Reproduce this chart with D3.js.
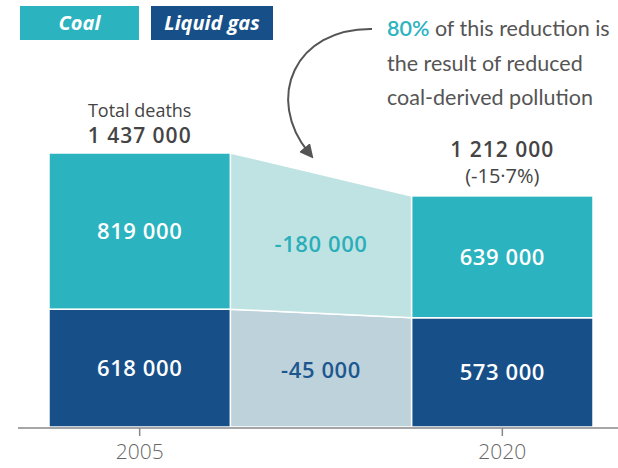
<!DOCTYPE html>
<html>
<head>
<meta charset="utf-8">
<script src="https://cdn.jsdelivr.net/npm/d3@7"></script>
<style>
  body { margin: 0; background: #fff; }
  svg { font-family: "Open Sans", Lato, sans-serif; }
</style>
</head>
<body>
<div id="chart"></div>
<script>
let width = 618
let height = 468

// data
const years = ["2005", "2020"]
const fuels = ["Liquid gas", "Coal"]
const coalDeaths = [819000, 639000]
const liquidGasDeaths = [618000, 573000]
const totalDeaths = [1437000, 1212000]
const coalChange = -180000
const liquidGasChange = -45000
const totalChangePct = -15.7

const colors = { "Coal": "#2bb3bf", "Liquid gas": "#175089" }
const fadedColors = { "Coal": "#bfe3e3", "Liquid gas": "#bdd2db" }
const changeText = { "Coal": "#2aaeba", "Liquid gas": "#1d5790" }

let locale = d3.formatLocale({ decimal: "·", thousands: " ", grouping: [3], currency: ["", ""], minus: "-" })
let fmt = locale.format(",")
let pct = locale.format(".1f")

let rows = years.map((y, i) => ({ year: y, "Coal": coalDeaths[i], "Liquid gas": liquidGasDeaths[i] }))
let stacked = d3.stack().keys(fuels)(rows)

let x = d3.scaleBand()
  .domain([years[0], "change", years[1]])
  .range([49, 593])

let y = d3.scaleLinear()
  .domain([0, totalDeaths[0]])
  .range([427, 153])

let svg = d3.select("#chart")
  .append("svg")
  .attr("width", width)
  .attr("height", height)

// middle "change" bands
let x0 = x(years[0]) + x.bandwidth()
let x1 = x(years[1])
svg.append("g").selectAll("path")
  .data(stacked)
  .join("path")
  .attr("d", s => {
    let a = s[0], b = s[1]
    return `M${x0},${y(a[0])} L${x0},${y(a[1])} L${x1},${y(b[1])} L${x1},${y(b[0])} Z`
  })
  .attr("fill", s => fadedColors[s.key])
  .attr("stroke", "#fff")
  .attr("stroke-width", 1.5)

// bars
svg.append("g").selectAll("g")
  .data(stacked)
  .join("g")
  .attr("fill", s => colors[s.key])
  .selectAll("rect")
  .data(s => s)
  .join("rect")
  .attr("x", d => x(d.data.year))
  .attr("y", d => y(d[1]))
  .attr("width", x.bandwidth())
  .attr("height", d => y(d[0]) - y(d[1]))
  .attr("stroke", "#fff")
  .attr("stroke-width", 1.5)

// value labels in bars
svg.append("g").selectAll("g")
  .data(stacked)
  .join("g")
  .selectAll("text")
  .data(s => s)
  .join("text")
  .attr("x", d => x(d.data.year) + x.bandwidth() / 2)
  .attr("y", d => (y(d[0]) + y(d[1])) / 2)
  .attr("dy", "0.35em")
  .attr("text-anchor", "middle")
  .attr("fill", "#fff")
  .attr("font-size", 22)
  .attr("font-weight", 600)
  .attr("letter-spacing", 0.6)
  .text(d => fmt(d[1] - d[0]))

// change labels
let changes = { "Coal": coalChange, "Liquid gas": liquidGasChange }
svg.append("g").selectAll("text")
  .data(stacked)
  .join("text")
  .attr("x", x("change") + x.bandwidth() / 2)
  .attr("y", s => (y(s[0][0]) + y(s[0][1]) + y(s[1][0]) + y(s[1][1])) / 4)
  .attr("dy", "0.35em")
  .attr("text-anchor", "middle")
  .attr("fill", s => changeText[s.key])
  .attr("font-size", 22)
  .attr("font-weight", 600)
  .attr("letter-spacing", 0.6)
  .text(s => fmt(changes[s.key]))

// axis
let axis = svg.append("g")
  .attr("transform", `translate(0,${y(0) + 1})`)
  .call(d3.axisBottom(x).tickValues(years).tickSize(8).tickPadding(8))
axis.attr("font-family", null)
axis.select(".domain").remove()
axis.selectAll("line").attr("stroke", "#888").attr("stroke-width", 1.5)
axis.selectAll("text")
  .attr("font-size", 21)
  .attr("font-weight", 300)
  .attr("fill", "#666")
svg.append("line")
  .attr("x1", 18).attr("x2", width)
  .attr("y1", y(0) + 1).attr("y2", y(0) + 1)
  .attr("stroke", "#888")
  .attr("stroke-width", 1.5)

// totals
let cx0 = x(years[0]) + x.bandwidth() / 2
let cx1 = x(years[1]) + x.bandwidth() / 2
svg.append("text")
  .attr("x", cx0).attr("y", 117)
  .attr("text-anchor", "middle")
  .attr("font-size", 18).attr("fill", "#444")
  .text("Total deaths")
svg.append("text")
  .attr("x", cx0).attr("y", 143)
  .attr("text-anchor", "middle")
  .attr("font-size", 21).attr("font-weight", 600).attr("fill", "#444")
  .attr("letter-spacing", 1)
  .text(fmt(totalDeaths[0]))
svg.append("text")
  .attr("x", cx1).attr("y", 157)
  .attr("text-anchor", "middle")
  .attr("font-size", 21).attr("font-weight", 600).attr("fill", "#444")
  .attr("letter-spacing", 1)
  .text(fmt(totalDeaths[1]))
svg.append("text")
  .attr("x", cx1).attr("y", 183)
  .attr("text-anchor", "middle")
  .attr("font-size", 20).attr("fill", "#444")
  .text(`(${pct(totalChangePct)}%)`)

// legend
let legend = svg.append("g").selectAll("g")
  .data(["Coal", "Liquid gas"])
  .join("g")
  .attr("transform", (d, i) => `translate(${[20, 151][i]},6)`)
legend.append("rect")
  .attr("width", (d, i) => [119, 122][i])
  .attr("height", 34)
  .attr("fill", d => colors[d])
legend.append("text")
  .attr("x", (d, i) => [119, 122][i] / 2)
  .attr("y", 17)
  .attr("dy", "0.35em")
  .attr("text-anchor", "middle")
  .attr("fill", "#fff")
  .attr("font-size", 20)
  .attr("font-weight", 700)
  .attr("font-style", "italic")
  .text(d => d)

// annotation
let note = svg.append("text")
  .style("font-family", "Lato, sans-serif")
  .attr("font-size", 21.5)
  .attr("fill", "#555")
note.append("tspan").attr("x", 387).attr("y", 36)
  .attr("fill", "#2bb3bf").attr("font-weight", 600).text("80%")
note.append("tspan").text(" of this reduction is")
note.append("tspan").attr("x", 387).attr("y", 71).text("the result of reduced")
note.append("tspan").attr("x", 387).attr("y", 105).text("coal-derived pollution")

svg.append("defs").append("marker")
  .attr("id", "head")
  .attr("viewBox", "0 0 10 10")
  .attr("refX", 5).attr("refY", 5)
  .attr("markerWidth", 7).attr("markerHeight", 7)
  .attr("orient", "auto")
  .append("path")
  .attr("d", "M0,0 L10,5 L0,10 Z")
  .attr("fill", "#555")

svg.append("path")
  .attr("d", "M372,29 C295,28 264,98 309,153")
  .attr("fill", "none")
  .attr("stroke", "#555")
  .attr("stroke-width", 2)
  .attr("marker-end", "url(#head)")
</script>
</body>
</html>
